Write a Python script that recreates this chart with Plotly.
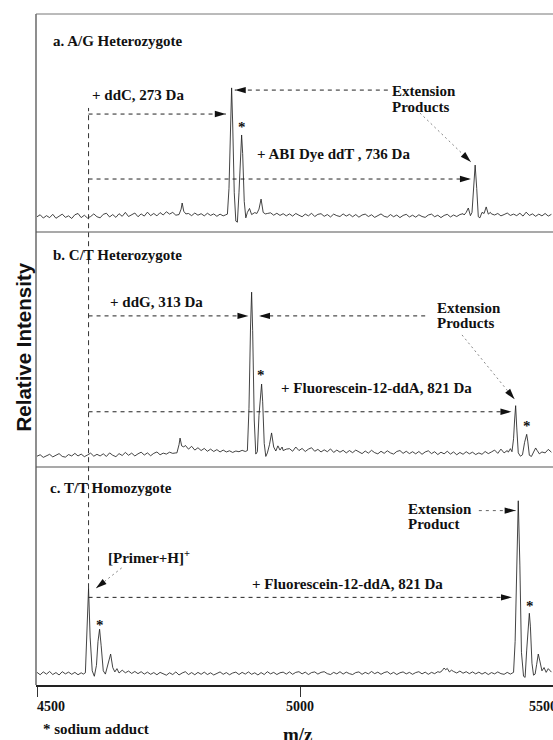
import math
import plotly.graph_objects as go

# ---------------- data ----------------
GRID_START = 4500          # m/z of first baseline sample
GRID_STEP = 6              # m/z spacing of baseline samples
X_RANGE = [4498.1, 5481.0]
Y_RANGE = [0, 100]

tick_vals = [4500, 5000, 5500]
tick_text = ["4500", "5000", "5500"]

# baseline (noise) intensities, relative units
noise_a = [
    7.0, 7.9, 6.4, 7.5, 6.6, 8.1, 6.3, 7.3, 8.2, 6.7, 7.4, 6.2, 7.9, 8.5, 6.6, 7.7, 6.4, 7.1, 8.3, 7.0,
    6.5, 8.1, 8.6, 6.9, 8.0, 6.7, 8.4, 7.2, 9.0, 7.1, 8.1, 8.7, 7.0, 8.3, 7.3, 9.1, 7.5, 8.5, 7.4, 8.9,
    7.8, 9.3, 8.2, 9.0, 7.7, 8.8, 7.9, 7.3, 8.5, 7.5, 8.7, 7.7, 8.4, 7.4, 8.6, 7.6, 8.3, 7.2, 8.2, 7.4,
    7.8, 8.0, 8.3, 7.9, 8.6, 8.1, 8.4, 8.8, 8.2, 8.9, 8.0, 8.5, 7.5, 8.5, 8.8, 7.7, 8.6, 7.6, 8.4, 7.4,
    8.3, 7.3, 8.5, 7.7, 7.0, 8.2, 7.4, 8.6, 7.1, 8.1, 8.4, 7.2, 8.0, 6.9, 8.2, 7.5, 7.1, 8.3, 7.3, 8.1,
    7.0, 8.0, 6.8, 7.8, 8.2, 7.1, 7.9, 6.7, 7.7, 8.3, 7.2, 6.8, 8.0, 7.0, 7.8, 6.6, 7.6, 8.1, 6.9, 7.7,
    6.8, 7.9, 7.1, 6.7, 7.8, 8.2, 7.0, 7.7, 6.6, 7.6, 8.1, 6.9, 7.8, 7.1, 8.0, 8.4, 7.3, 8.6, 7.5, 8.2,
    8.2, 7.9, 8.8, 7.6, 8.3, 7.8, 8.5, 7.4, 8.0, 8.7, 7.6, 8.2, 7.5, 8.6, 7.3, 9.1, 7.6, 8.3, 7.2, 8.2,
    7.4, 8.5, 7.3, 8.1,
]
noise_b = [
    4.6, 5.2, 4.1, 4.9, 5.4, 4.3, 5.0, 5.7, 4.5, 4.2, 5.3, 4.7, 5.8, 4.7, 5.5, 4.4, 5.1, 5.9, 4.6, 5.4,
    4.7, 5.6, 4.5, 6.0, 5.0, 4.4, 5.7, 4.9, 6.2, 5.0, 5.9, 4.7, 5.6, 6.3, 5.1, 6.0, 4.8, 5.8, 6.4, 5.2,
    5.9, 5.5, 6.3, 5.8, 6.0, 7.5, 11.0, 9.2, 7.6, 8.8, 7.2, 8.2, 7.0, 7.9, 6.7, 7.6, 6.6, 7.4, 6.4, 7.2,
    6.4, 6.9, 6.2, 6.8, 6.5, 7.1, 6.6, 7.0, 6.7, 7.2, 6.5, 7.0, 6.4, 6.9, 6.6, 7.3, 6.8, 7.5, 7.0, 7.6,
    7.8, 6.7, 8.5, 7.0, 7.9, 6.6, 7.6, 8.2, 6.7, 7.5, 6.4, 7.3, 6.5, 7.7, 6.2, 7.2, 6.3, 7.1, 6.0, 7.0,
    6.1, 7.2, 6.3, 5.7, 6.8, 5.9, 7.1, 6.1, 5.6, 6.7, 5.8, 6.9, 6.0, 5.5, 6.6, 7.0, 5.8, 6.7, 5.7, 6.5,
    5.6, 6.6, 5.4, 6.4, 6.9, 5.7, 6.5, 5.3, 6.3, 5.6, 6.7, 5.5, 6.4, 5.2, 6.2, 5.4, 6.5, 5.6, 6.3, 5.3,
    6.0, 5.4, 6.6, 5.7, 6.4, 7.2, 5.8, 7.6, 6.0, 7.0, 6.5, 7.0, 6.3, 6.8, 6.1, 6.6, 6.0, 6.4, 5.8, 6.3,
    6.9, 6.0, 7.5, 6.3,
]
noise_c = [
    5.8, 4.7, 6.0, 5.0, 6.2, 4.8, 5.7, 4.6, 6.1, 5.1, 5.9, 4.9, 5.8, 4.7, 5.6, 6.0, 5.2, 5.5, 5.0, 5.4,
    5.1, 6.0, 5.3, 4.8, 6.1, 6.5, 5.5, 6.8, 5.6, 6.4, 5.3, 6.2, 5.2, 6.1, 5.0, 5.9, 4.9, 5.7, 4.7, 5.8,
    5.0, 4.5, 5.6, 4.8, 6.0, 4.6, 5.5, 6.1, 4.8, 5.7, 4.7, 5.8, 4.9, 5.9, 4.8, 5.6, 4.6, 5.5, 6.0, 4.9,
    5.7, 4.7, 5.5, 5.9, 4.8, 5.8, 5.0, 6.0, 4.9, 5.6, 4.6, 5.7, 4.8, 6.1, 5.1, 5.8, 4.8, 5.6, 5.9, 5.0,
    6.0, 4.9, 5.8, 6.1, 5.1, 5.9, 4.8, 5.7, 6.0, 5.0, 5.8, 6.1, 5.2, 4.8, 5.8, 5.1, 6.1, 5.0, 5.9, 5.2,
    4.8, 5.7, 6.0, 4.9, 5.8, 5.1, 6.2, 5.2, 5.9, 4.9, 5.7, 6.1, 5.0, 5.8, 4.8, 5.6, 6.0, 5.1, 5.8, 4.9,
    5.7, 6.1, 5.1, 5.9, 4.9, 5.8, 5.2, 6.1, 5.0, 6.0, 6.3, 5.3, 6.2, 5.5, 6.4, 5.4, 6.1, 5.2, 6.0, 5.1,
    5.9, 5.0, 5.8, 4.8, 5.7, 5.1, 6.0, 5.2, 4.9, 5.8, 5.0, 5.7, 4.8, 5.6, 5.1, 5.8, 4.9, 5.6, 5.0, 5.7,
    5.2, 6.1, 5.1, 5.9,
]

# peak regions (m/z, intensity)
peaks_a_mz = [
    [4770, 4774, 4776, 4779, 4783],
    [4858, 4862, 4865, 4868, 4870, 4872, 4875, 4878, 4881, 4884, 4887, 4889, 4891, 4894, 4897, 4900, 4904, 4908],
    [4918, 4922, 4926, 4930, 4934],
    [5312, 5316, 5320, 5324, 5327, 5330, 5333, 5336, 5339, 5342, 5346, 5350, 5354, 5358, 5362],
]
peaks_a_int = [
    [8.0, 10.5, 13.3, 9.5, 8.3],
    [7.8, 8.2, 20.0, 52.0, 66.1, 50.0, 18.0, 5.0, 4.5, 18.0, 38.0, 44.5, 36.0, 14.0, 6.5, 9.0, 10.8, 8.0],
    [8.5, 10.5, 15.1, 9.0, 8.3],
    [7.8, 9.0, 11.0, 7.5, 9.0, 20.0, 30.7, 20.0, 7.0, 6.5, 9.0, 8.5, 11.5, 8.2, 9.0],
]
peaks_b_mz = [
    [4766, 4770, 4772, 4775, 4779],
    [4896, 4900, 4903, 4906, 4908, 4910, 4913, 4916, 4919, 4922, 4925, 4927, 4929, 4932, 4935, 4938, 4942, 4946, 4950, 4954, 4958, 4962, 4966],
    [5396, 5400, 5403, 5406, 5408, 5410, 5412, 5415, 5419, 5423, 5427, 5429, 5431, 5433, 5436, 5440, 5444, 5448, 5451, 5455, 5460],
]
peaks_b_int = [
    [6.0, 9.5, 12.3, 9.0, 8.5],
    [6.6, 7.0, 25.0, 60.0, 74.4, 58.0, 20.0, 5.5, 6.5, 22.0, 33.0, 35.3, 28.0, 10.0, 4.5, 6.0, 9.5, 14.5, 8.5, 6.8, 9.0, 7.2, 8.5],
    [6.3, 7.8, 6.5, 12.0, 20.0, 26.1, 17.0, 6.0, 4.6, 5.2, 10.5, 13.0, 13.9, 11.0, 5.0, 4.5, 6.0, 8.1, 7.0, 5.6, 6.4],
]
peaks_c_mz = [
    [4588, 4592, 4595, 4598, 4601, 4605, 4609, 4613, 4616, 4619, 4622, 4626, 4630, 4634, 4637, 4640, 4644, 4648, 4652],
    [5266, 5270, 5274, 5277, 5280, 5284, 5288],
    [5402, 5406, 5409, 5412, 5415, 5418, 5421, 5425, 5428, 5431, 5434, 5436, 5438, 5441, 5444, 5447, 5450, 5453, 5456, 5460, 5464, 5468, 5472],
]
peaks_c_int = [
    [5.0, 5.6, 25.0, 44.4, 22.0, 6.5, 4.0, 9.0, 20.0, 25.6, 18.0, 6.5, 5.0, 9.0, 11.5, 14.2, 8.0, 6.0, 7.5],
    [5.8, 6.5, 7.8, 7.0, 7.6, 6.0, 6.8],
    [5.4, 5.8, 20.0, 60.0, 84.5, 55.0, 15.0, 4.0, 3.5, 16.0, 29.0, 32.9, 27.0, 10.0, 4.5, 5.0, 9.5, 14.2, 11.0, 6.5, 8.0, 5.8, 7.5],
]

PRIMER_MZ = peaks_c_mz[0][3]


def build_spectrum(noise, groups_mz, groups_int):
    spans = [(min(g), max(g)) for g in groups_mz]
    pts = []
    for i, v in enumerate(noise):
        x = GRID_START + i * GRID_STEP
        if any(lo <= x <= hi for lo, hi in spans):
            continue
        pts.append((x, v))
    for gm, gi in zip(groups_mz, groups_int):
        pts.extend(zip(gm, gi))
    pts.sort()
    return [p[0] for p in pts], [p[1] for p in pts]


# ---------------- layout geometry ----------------
W, H = 553, 740
M_L, M_R, M_T, M_B = 36, 0, 14, 55
PLOT_W = W - M_L - M_R
PLOT_H = H - M_T - M_B


def dom(top_px, bottom_px):
    return [(H - M_B - bottom_px) / PLOT_H, (H - M_B - top_px) / PLOT_H]


dom_a = dom(14, 232)
dom_b = dom(232, 467)
dom_c = dom(467, 685)

SERIF = "Liberation Serif, Times New Roman, serif"
SANS = "Liberation Sans, Arial, sans-serif"
INK = "#111111"

fig = go.Figure()
for (nz, gm, gi, yax) in [
    (noise_a, peaks_a_mz, peaks_a_int, "y3"),
    (noise_b, peaks_b_mz, peaks_b_int, "y2"),
    (noise_c, peaks_c_mz, peaks_c_int, "y"),
]:
    xs, ys = build_spectrum(nz, gm, gi)
    fig.add_trace(go.Scatter(x=xs, y=ys, mode="lines", xaxis="x", yaxis=yax,
                             line=dict(color="#222222", width=0.85), hoverinfo="skip",
                             showlegend=False))

shapes = []
annotations = []


def to_px(x, y, d):
    X = M_L + (x - X_RANGE[0]) / (X_RANGE[1] - X_RANGE[0]) * PLOT_W
    top = H - M_B - d[1] * PLOT_H
    bottom = H - M_B - d[0] * PLOT_H
    Y = bottom - (y - Y_RANGE[0]) / (Y_RANGE[1] - Y_RANGE[0]) * (bottom - top)
    return X, Y


def arrow(x0, y0, x1, y1, yref, d, dash="4px,4px", color="#222", head=True, lw=1):
    shapes.append(dict(type="line", xref="x", yref=yref, x0=x0, y0=y0, x1=x1, y1=y1,
                       line=dict(color=color, width=lw, dash=dash)))
    if head:
        X0, Y0 = to_px(x0, y0, d)
        X1, Y1 = to_px(x1, y1, d)
        dx, dy = X1 - X0, -(Y1 - Y0)
        n = math.hypot(dx, dy)
        ux, uy = dx / n, dy / n
        nx, ny = -uy, ux
        L, Wd = 11, 3.2
        bx, by = -L * ux, -L * uy
        p = "M0,0 L{:.2f},{:.2f} L{:.2f},{:.2f} Z".format(bx + Wd * nx, by + Wd * ny,
                                                          bx - Wd * nx, by - Wd * ny)
        shapes.append(dict(type="path", xref="x", yref=yref, xsizemode="pixel",
                           ysizemode="pixel", xanchor=x1, yanchor=y1, path=p,
                           fillcolor=INK, line=dict(width=0)))


def text(s, x, y, yref, size=15, xanchor="left", xref="x", font=SERIF, **kw):
    annotations.append(dict(text=s, x=x, y=y, xref=xref, yref=yref, xanchor=xanchor,
                            yanchor="middle", showarrow=False,
                            font=dict(family=font, size=size, color=INK), **kw))


# ---- panel a ----
text("<b>a. A/G Heterozygote</b>", 4526.6, 87.6, "y3")
text("<b>+ ddC, 273 Da</b>", 4600.8, 62.8, "y3")
text("<b>Extension</b>", 5170.7, 64.8, "y3")
text("<b>Products</b>", 5170.7, 57.3, "y3")
text("<b>*</b>", 4889, 48.0, "y3", xanchor="center")
text("<b>+ ABI Dye ddT , 736 Da</b>", 4913.9, 35.8, "y3")
arrow(PRIMER_MZ, 54.1, 4859, 54.1, "y3", dom_a)
arrow(5167, 65.1, 4876, 65.1, "y3", dom_a)
arrow(PRIMER_MZ, 24.3, 5325, 24.3, "y3", dom_a)
arrow(5228, 54.6, 5325, 32.1, "y3", dom_a, dash="2px,3px", color="#888")

# ---- panel b ----
text("<b>b. C/T Heterozygote</b>", 4526.6, 90.2, "y2")
text("<b>+ ddG, 313 Da</b>", 4634.2, 70.3, "y2")
text("<b>Extension</b>", 5255.8, 67.5, "y2")
text("<b>Products</b>", 5255.8, 61.1, "y2")
text("<b>*</b>", 4926, 39.3, "y2", xanchor="center")
text("<b>+ Fluorescein-12-ddA, 821 Da</b>", 4959.5, 33.7, "y2")
text("<b>*</b>", 5431, 17.3, "y2", xanchor="center")
arrow(PRIMER_MZ, 64.3, 4902, 64.3, "y2", dom_b)
arrow(5238, 64.3, 4922, 64.3, "y2", dom_b)
arrow(PRIMER_MZ, 23.5, 5402, 23.5, "y2", dom_b)
arrow(5308, 56.2, 5408, 28.8, "y2", dom_b, dash="2px,3px", color="#888")

# ---- panel c ----
text("<b>c. T/T Homozygote</b>", 4520.2, 90.2, "y")
text("<b>Extension</b>", 5200.7, 80.6, "y")
text("<b>Product</b>", 5200.7, 73.9, "y")
text("<b>[Primer+H]<sup>+</sup></b>", 4630.8, 58.5, "y")
text("<b>+ Fluorescein-12-ddA, 821 Da</b>", 4905.7, 46.3, "y")
text("<b>*</b>", 4619, 27.4, "y", xanchor="center")
text("<b>*</b>", 5437, 36.4, "y", xanchor="center")
arrow(5340, 80.0, 5410, 80.0, "y", dom_c, dash="3px,4px", color="#666")
arrow(PRIMER_MZ, 40.2, 5403, 40.2, "y", dom_c)
arrow(4661, 53.7, 4612, 44.4, "y", dom_c, dash="2px,3px", color="#888")

# vertical dashed reference line through the primer mass
shapes.append(dict(type="line", xref="x", yref="paper", x0=PRIMER_MZ, x1=PRIMER_MZ,
                   y0=dom_c[0] + (dom_c[1] - dom_c[0]) * 44.4 / 100,
                   y1=dom_a[0] + (dom_a[1] - dom_a[0]) * 56.9 / 100,
                   line=dict(color="#333", width=1, dash="5px,4px")))

# frame
shapes.append(dict(type="line", xref="paper", yref="paper", x0=0, x1=0, y0=0, y1=1,
                   line=dict(color="#444", width=1.2)))
shapes.append(dict(type="line", xref="paper", yref="paper", x0=0, x1=1, y0=1, y1=1,
                   line=dict(color="#777", width=1)))
for yy in (dom_a[0], dom_c[1]):
    shapes.append(dict(type="line", xref="paper", yref="paper", x0=0, x1=1, y0=yy, y1=yy,
                       line=dict(color="#555", width=1.2)))

# tick labels
tick_y = (H - M_B - 706) / PLOT_H
for v, t in zip(tick_vals, tick_text):
    frac = (v - X_RANGE[0]) / (X_RANGE[1] - X_RANGE[0])
    if v == tick_vals[0]:
        anc, sh = "left", -2
    elif v == tick_vals[-1]:
        anc, sh = "right", -4
    else:
        anc, sh = "center", 0
    text("<b>" + t + "</b>", frac, tick_y, "paper", size=14, xanchor=anc, xref="paper",
         xshift=sh)

text("<b>* sodium adduct</b>", (41 - M_L) / PLOT_W, (H - M_B - 729) / PLOT_H, "paper",
     size=15, xref="paper")
text("<b>m/z</b>", (298 - M_L) / PLOT_W, (H - M_B - 735) / PLOT_H, "paper", size=19,
     xanchor="center", xref="paper")
text("<b>Relative Intensity</b>", (23 - M_L) / PLOT_W, (H - M_B - 347.5) / PLOT_H, "paper",
     size=20.5, xanchor="center", xref="paper", font=SANS, textangle=-90)

fig.update_layout(
    width=W, height=H,
    margin=dict(l=M_L, r=M_R, t=M_T, b=M_B, pad=0),
    paper_bgcolor="white", plot_bgcolor="white",
    showlegend=False,
    xaxis=dict(range=X_RANGE, anchor="y", tickvals=tick_vals[:2], ticks="outside",
               ticklen=10, tickwidth=1, tickcolor="#333", showticklabels=False,
               showgrid=False, zeroline=False, showline=True, linecolor="#222",
               linewidth=1.5),
    yaxis=dict(domain=dom_c, range=Y_RANGE, visible=False),
    yaxis2=dict(domain=dom_b, range=Y_RANGE, visible=False, anchor="x"),
    yaxis3=dict(domain=dom_a, range=Y_RANGE, visible=False, anchor="x"),
    shapes=shapes,
    annotations=annotations,
)

fig.write_html(
    "out.html",
    config={"displayModeBar": False},
    post_script="document.body.style.margin='0';document.body.style.overflow='hidden';",
)
